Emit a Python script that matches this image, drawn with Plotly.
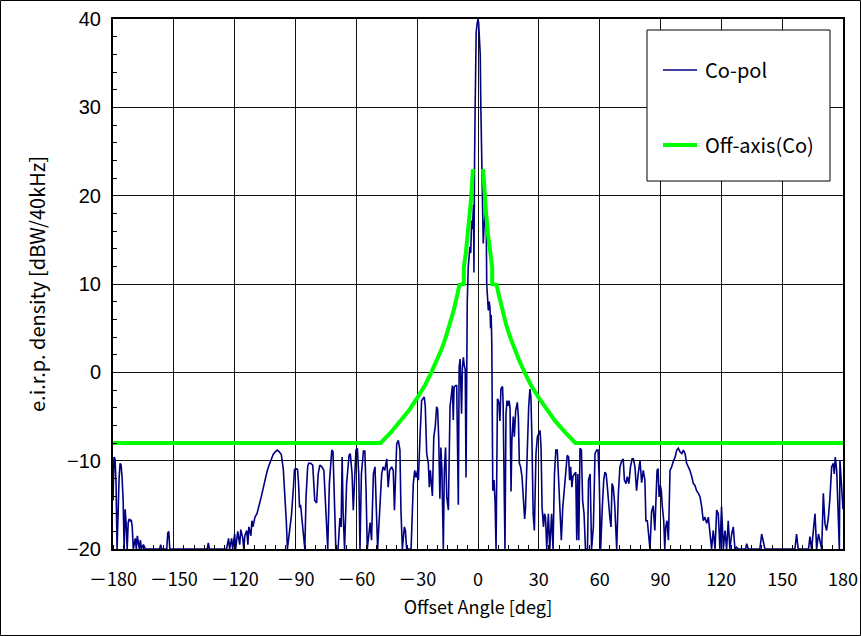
import plotly.graph_objects as go

# Measured co-polar e.i.r.p. density pattern: (offset angle [deg], level [dBW/40kHz])
copol_pattern = [
    (-180, -14.5), (-179.5, -9.6), (-179, -9.8), (-178.5, -12.5), (-178, -20),
    (-177.5, -15), (-177, -12), (-176.5, -10.3), (-176, -10.5), (-175.5, -12),
    (-175, -14.5), (-174.5, -20), (-174, -15.5), (-173.5, -17.2), (-173, -20),
    (-172.5, -17), (-172, -16.6), (-171.5, -16.8), (-171, -16.7), (-170.5, -17.5),
    (-170, -20), (-169, -18.8), (-168.5, -20), (-168, -18.5), (-167, -20),
    (-166.5, -19), (-166, -20), (-165, -19.5), (-164, -20), (-157, -20),
    (-156.5, -19.5), (-156, -20), (-153.5, -20), (-153, -18.2), (-152.5, -18.0),
    (-152, -20), (-133.5, -20), (-133, -19.3), (-132.5, -20), (-124, -20),
    (-123, -18.8), (-122.5, -20), (-121.5, -18.8), (-121, -20), (-120, -18.3),
    (-119.5, -20), (-118.5, -18.0), (-117.5, -19.5), (-117, -17.8), (-116, -18.8),
    (-115.5, -20), (-115, -18.5), (-114, -17.9), (-113.5, -19.5), (-113, -17.5),
    (-112, -18.5), (-111.5, -16.8), (-111, -17.5), (-110, -16.4), (-109, -16.0),
    (-108, -15.2), (-107, -14.2), (-106, -13.2), (-105, -12.0), (-104, -11.2),
    (-103, -10.5), (-102, -9.8), (-101, -9.3), (-100, -9.0), (-99, -8.8),
    (-98, -9.0), (-97, -9.3), (-96, -11.0), (-95, -14.5), (-94.5, -17),
    (-94, -20), (-93, -18), (-92, -16.2), (-91, -13), (-90.5, -11),
    (-89.7, -10.9), (-89, -11), (-88.5, -12.5), (-88, -15.3), (-87.5, -15),
    (-87, -16.1), (-86, -19), (-85.4, -20), (-84.8, -14.1), (-84, -10.7),
    (-83.5, -10.3), (-82.5, -10.3), (-81.5, -10.5), (-80.5, -14.5), (-79.6, -14.8),
    (-78.8, -11.5), (-78, -10.5), (-77, -10.7), (-76, -11.1), (-75, -15.3),
    (-74.1, -20), (-73.3, -12.6), (-72.6, -9.6), (-72.1, -8.8), (-71.5, -9),
    (-71, -12.2), (-70.1, -20), (-69, -20), (-68.1, -16.5), (-67.5, -17.5),
    (-67, -9.6), (-66.5, -16), (-65.8, -20), (-64.8, -12.6), (-63.6, -9.4),
    (-63, -9.2), (-62.1, -11.5), (-61.5, -15.6), (-60.8, -11.5), (-60.2, -8.8),
    (-59.5, -8.6), (-58.8, -11.5), (-58.2, -20), (-57.5, -11.5), (-56.5, -8.9),
    (-55.8, -8.9), (-55.2, -13.4), (-54.6, -20), (-53.2, -17), (-52.5, -19),
    (-51.6, -11.5), (-50.8, -10.7), (-49.5, -20), (-48.5, -14.9), (-47.5, -11.5),
    (-46.8, -10.7), (-46, -11.1), (-45, -9.8), (-44.3, -13), (-43.6, -11.1),
    (-42.6, -10.7), (-41.8, -11.1), (-41.2, -15.6), (-40.1, -8.1), (-39.3, -7.7),
    (-38.5, -8.8), (-38, -15.6), (-37.3, -20), (-36.3, -17.5), (-35.8, -17.9),
    (-35.2, -20), (-33, -20), (-31.9, -12.6), (-31.2, -11.1), (-30.6, -11.9),
    (-29.8, -11.1), (-29.4, -12.2), (-28.6, -7.3), (-27.8, -3.2), (-26.5, -2.8),
    (-26, -3.9), (-25.3, -9.2), (-24.5, -10.3), (-24, -13), (-23.5, -11.1),
    (-22.5, -14), (-21.8, -7.3), (-21.1, -6.2), (-20.4, -3.9), (-19.9, -4.2),
    (-19.4, -7.3), (-18.8, -14.3), (-18.3, -8.5), (-17.8, -11.1), (-17.1, -20),
    (-16.6, -11.1), (-16, -8.5), (-15.4, -14.1), (-14.6, -15.6), (-13.8, -3.9),
    (-13, -1.7), (-12.6, -1.5), (-12.2, -5.4), (-11.8, -1.7), (-11.0, -1.5),
    (-10.5, -1.5), (-9.7, -15), (-9.3, 0.6), (-8.8, 1.5), (-8.1, -4.7),
    (-7.7, 0.5), (-7.2, 1.7), (-6.8, 0.8), (-6.3, 0.3), (-5.9, -11.9),
    (-5.5, 3), (-5.3, 8), (-4.8, 12), (-4.3, 13.8), (-4.0, 14.2),
    (-3.6, 13.5), (-3.1, 17.2), (-2.8, 16.2), (-2.5, 17.5), (-2.2, 19),
    (-2.0, 11.3), (-1.9, 20), (-1.7, 24), (-1.4, 30), (-1.15, 36.5),
    (-0.9, 38.5), (-0.4, 39.5), (0, 40), (0.3, 39.6), (0.8, 38),
    (1.1, 36), (1.4, 30), (1.8, 24), (2.1, 19), (2.3, 17),
    (2.6, 14.6), (3.0, 16.5), (3.5, 18), (4.0, 19), (4.3, 10),
    (4.7, 8.0), (5.1, 7.0), (5.5, 8.0), (5.9, 7.4), (6.2, 5.0),
    (6.5, 6.5), (6.8, 3.3), (7.1, -8.5), (7.3, -13.4), (7.9, -12.2),
    (8.4, -14.5), (8.9, -20), (9.3, -5), (9.6, -3.0), (10.0, -3.2),
    (10.4, -3.6), (10.8, -5.5), (11.3, -1.9), (11.7, -1.7), (12.1, -1.6),
    (12.4, -3.6), (13.0, -12), (13.3, -20), (13.8, -4.7), (14.3, -3.2),
    (14.8, -3.8), (15.3, -3.2), (15.8, -4.0), (16.3, -13.5), (16.7, -7.7),
    (17.4, -5.0), (17.9, -7.3), (18.6, -4.3), (19.4, -3.4), (19.9, -5.0),
    (20.4, -10.3), (21.0, -10.7), (21.7, -11.8), (22.4, -15.3), (23.0, -16.6),
    (23.4, -15.5), (23.9, -12.2), (24.3, -7.7), (25.0, -3.9), (25.6, -1.9),
    (26.1, -2.8), (26.6, -7.7), (27.2, -16), (27.8, -17.9), (28.1, -12.6),
    (28.6, -9.2), (29.3, -7.3), (30.0, -7.0), (30.6, -6.6), (31.1, -8.5),
    (31.6, -15.3), (32.3, -17.5), (32.8, -16), (33.3, -16.4), (33.9, -20),
    (34.7, -16), (35.4, -20), (36.3, -16), (37.0, -20), (37.7, -11.5),
    (38.4, -8.8), (39.1, -8.8), (39.8, -12.2), (40.4, -14.1), (41.1, -19),
    (41.8, -15.3), (42.5, -13.4), (43.4, -10.7), (44.0, -9.4), (44.7, -9.6),
    (45.2, -12.2), (45.7, -10.7), (46.3, -13), (46.8, -11.8), (47.5, -11.5),
    (48.2, -11.3), (48.7, -19), (49.2, -11.5), (49.7, -19), (50.3, -8.6),
    (51.0, -8.8), (51.6, -14.5), (52.3, -16), (53.0, -20), (54.0, -20),
    (54.5, -12.2), (55.3, -11.5), (56.0, -20), (56.9, -17.5), (57.7, -9.2),
    (58.5, -8.8), (59.2, -8.8), (59.8, -12.2), (60.5, -20), (61.3, -15.3),
    (62.0, -12.2), (62.6, -11.3), (63.2, -11.5), (63.8, -13), (64.4, -15.3),
    (65.0, -16.4), (65.6, -17.5), (66.1, -12.6), (66.7, -13), (67.4, -14.9),
    (68.4, -20), (69.2, -13.8), (70.0, -10.7), (70.9, -10.0), (71.6, -9.8),
    (72.2, -12.2), (73.0, -12.6), (73.6, -11.8), (74.4, -12.6), (75.2, -10.7),
    (76.0, -9.8), (76.6, -9.8), (77.4, -10.7), (78.2, -13.4), (79.0, -11.5),
    (79.9, -10.0), (80.7, -12.5), (81.5, -11.1), (82.3, -12.2), (82.8, -16.8),
    (83.5, -16.8), (84.0, -18.3), (84.8, -20), (85.6, -15.8), (86.4, -15.1),
    (87.2, -17.9), (87.7, -13.7), (88.3, -11.1), (88.8, -10.9), (89.3, -14.1),
    (89.9, -12.8), (90.4, -13.4), (90.9, -15.2), (91.6, -16.8), (92.1, -20),
    (92.6, -17.5), (93.2, -16.8), (93.9, -19), (94.7, -11.1), (95.5, -10.7),
    (96.4, -10), (97.2, -9.6), (98.0, -8.8), (98.8, -8.6), (99.6, -9),
    (100.5, -9.2), (101.3, -8.8), (102.1, -9.2), (102.9, -10.3), (103.7, -10.7),
    (104.5, -11.1), (105.4, -11.8), (106.2, -12.6), (107.0, -12.8), (107.8, -13.4),
    (108.7, -13.7), (109.5, -14.1), (110.3, -15.2), (111.1, -16.8), (111.9, -16.4),
    (112.8, -17.1), (113.6, -16.4), (114.4, -17.9), (115.2, -20), (116.0, -17.9),
    (116.9, -20), (117.7, -15.6), (118.5, -16), (119.3, -20), (120.1, -15.2),
    (121.0, -20), (121.8, -17.9), (122.6, -20), (123.4, -16.8), (124.2, -20),
    (125.1, -18.3), (125.9, -17.5), (126.7, -20), (127.5, -19.8), (128.3, -20),
    (132.0, -20), (132.5, -19.4), (133.3, -20), (139.0, -20), (139.9, -18.3),
    (140.7, -19.4), (141.5, -20), (156.3, -20), (157.1, -18.3), (157.9, -20),
    (163.0, -20), (163.7, -18.6), (164.5, -20), (165.4, -17.9), (166.2, -16),
    (167.0, -20), (167.9, -18.3), (169.5, -20), (170.3, -13.7), (171.1, -17.1),
    (171.9, -17.9), (172.8, -16.4), (173.6, -14.1), (174.4, -10.7), (175.2, -10.3),
    (175.7, -11.5), (176.2, -9.6), (176.9, -11.1), (177.7, -17.9), (178.2, -20),
    (178.5, -10), (179.0, -12.2), (179.5, -13.7), (180, -15.5),
]

# Off-axis e.i.r.p. density limit (one side, |offset angle| in deg)
mask_angle = [2.5, 3, 3.5, 4, 5, 6, 7, 7, 9.2, 10, 12, 14, 16, 18, 20,
              23, 26, 30, 34, 38, 43, 48, 180]
mask_level = [23.0, 21.1, 19.4, 18.0, 15.5, 13.5, 11.9, 10.0, 9.9, 9.0, 7.0,
              5.3, 3.9, 2.6, 1.5, 0.0, -1.4, -2.9, -4.3, -5.5, -6.8, -8.0, -8.0]

# axis ticks and their labels (full-width minus as in the Gothic type)
x_tickvals = [-180, -150, -120, -90, -60, -30, 0, 30, 60, 90, 120, 150, 180]
x_ticktext = ["－180", "－150", "－120", "－90", "－60", "－30", "0",
              "30", "60", "90", "120", "150", "180"]
x_range = [-180, 180]
y_range = [-20, 40]

copol_x = [p[0] for p in copol_pattern]
copol_y = [p[1] for p in copol_pattern]

# limit is symmetric about boresight: negative side, gap, positive side
mask_x = [-a for a in reversed(mask_angle)] + [None] + mask_angle
mask_y = list(reversed(mask_level)) + [None] + mask_level

NAVY = "#000080"
GREEN = "#00FF00"
JP_FONT = "Noto Sans CJK JP"

fig = go.Figure()
fig.add_trace(go.Scatter(x=copol_x, y=copol_y, mode="lines", name="Co-pol",
                         line=dict(color=NAVY, width=1.6)))
fig.add_trace(go.Scatter(x=mask_x, y=mask_y, mode="lines", name="Off-axis(Co)",
                         line=dict(color=GREEN, width=4), connectgaps=False))

fig.update_layout(
    width=861, height=636,
    margin=dict(l=113, r=18, t=19, b=87, autoexpand=False),
    paper_bgcolor="white", plot_bgcolor="white",
    showlegend=False,
    font=dict(family=JP_FONT, color="black"),
)

fig.update_xaxes(
    range=x_range, tickmode="array", tickvals=x_tickvals, ticktext=x_ticktext,
    automargin=False,
    showgrid=True, gridcolor="#111111", gridwidth=1, zeroline=False,
    showline=True, linecolor="black", linewidth=2, mirror=True,
    ticks="", ticklabelstandoff=13,
    tickfont=dict(family=JP_FONT, size=18, color="black"),
    minor=dict(tickmode="linear", tick0=0, dtick=5, ticks="inside", ticklen=4,
               tickcolor="black", tickwidth=1, showgrid=False),
    title=dict(text="Offset Angle [deg]", font=dict(family=JP_FONT, size=18),
               standoff=12),
)
fig.update_yaxes(
    range=y_range, tick0=0, dtick=10, automargin=False,
    showgrid=True, gridcolor="#111111", gridwidth=1, zeroline=False,
    showline=True, linecolor="black", linewidth=2, mirror=True,
    ticks="", ticklabelstandoff=6,
    tickfont=dict(family="Liberation Sans", size=20, color="black"),
    minor=dict(tick0=0, dtick=2, ticks="inside", ticklen=4, tickcolor="black",
               tickwidth=1, showgrid=False),
    title=dict(text="e.i.r.p. density [dBW/40kHz]",
               font=dict(family=JP_FONT, size=20), standoff=16),
)

# legend box with line samples
legend_box = dict(x0=0.7315, x1=0.9822, y0=0.6943, y1=0.9792)
fig.add_shape(type="rect", xref="paper", yref="paper", **legend_box,
              line=dict(color="black", width=1), fillcolor="white", layer="above")
legend_items = [("Co-pol", NAVY, 1.6, 0.9038), ("Off-axis(Co)", GREEN, 4, 0.7623)]
for label, color, width, ypos in legend_items:
    fig.add_shape(type="line", xref="paper", yref="paper", x0=0.7534, x1=0.800,
                  y0=ypos, y1=ypos, line=dict(color=color, width=width), layer="above")
    fig.add_annotation(xref="paper", yref="paper", x=0.8082, y=ypos, text=label,
                       showarrow=False, xanchor="left", yanchor="middle",
                       font=dict(family=JP_FONT, size=20, color="black"))

# thin frame around the whole chart area
fig.add_shape(type="rect", xref="paper", yref="paper",
              x0=-0.1541, x1=1.0240, y0=-0.1632, y1=1.0349,
              line=dict(color="black", width=1), layer="above")

fig.write_html("out.html")
